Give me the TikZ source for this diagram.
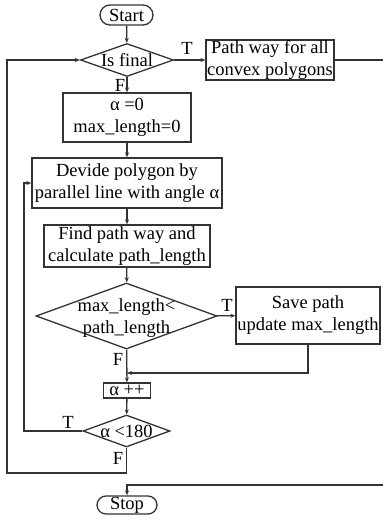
\documentclass[tikz,border=0pt]{standalone}
\usepackage{fontspec}
\setmainfont{Liberation Serif}
\usepackage{tikz}
\usetikzlibrary{shapes,arrows.meta,positioning,calc}
\tikzstyle{term}=[rounded rectangle, draw, inner sep=0pt]
\tikzstyle{proc}=[rectangle, draw, align=center, inner xsep=1pt, inner ysep=0pt]
\tikzstyle{decision}=[diamond, draw, inner sep=0pt, text height=0pt, text depth=0pt]
\tikzstyle{lbl}=[inner sep=0pt]
\newcommand{\dtext}[1]{\makebox[0pt]{\raisebox{-0.32em}{\begin{tabular}{@{}c@{}}#1\end{tabular}}}}

\begin{document}
\begin{tikzpicture}[x=1pt,y=-1pt,color=black!80,line width=1.3pt,
    every node/.append style={text=black},
    font=\fontsize{18.5}{22}\selectfont,
    >={Stealth[length=5pt,width=4pt]}]
		\useasboundingbox (0,0) rectangle (383,520);
		\node[term, minimum width=53pt, minimum height=20pt](start)at(126.5,15){Start};
		\node[decision, minimum width=93pt, minimum height=33pt](final)at(127,60){\dtext{Is final}};
		\node[proc, minimum width=126pt, minimum height=40pt](allpath)at(270,60){Path way for all\\convex polygons};
		\node[proc, minimum width=128pt, minimum height=49pt](init)at(127,117.5){α =0\\max\_length=0};
		\node[proc, minimum width=190pt, minimum height=50pt](divide)at(127,183){Devide polygon by\\parallel line with angle α};
		\node[proc, minimum width=166pt, minimum height=42pt](find)at(127,246){Find path way and\\calculate path\_length};
		\node[decision, minimum width=181pt, minimum height=66pt](cmp)at(126.5,316){\dtext{max\_length<\\path\_length}};
		\node[proc, minimum width=144pt, minimum height=57pt](save)at(308,315.5){Save path\\update max\_length};
		\node[rectangle, draw, inner sep=1pt, minimum width=47pt, minimum height=15pt](incr)at(127,390.5){α ++};
		\node[decision, minimum width=87pt, minimum height=32pt](test)at(126.5,431){\dtext{α <180}};
		\node[term, minimum width=60pt, minimum height=18pt](stop)at(127,505){Stop};
		\coordinate(join)at(127,373);
		\coordinate(inner)at(24,183);
		\coordinate(outer)at(7,473);
		\coordinate(rim)at(390,485);
		\node[lbl](t1)at(187,48){T};
		\node[lbl](f1)at(120,85){F};
		\node[lbl](t2)at(227,305){T};
		\node[lbl](f2)at(118,359){F};
		\node[lbl](t3)at(68,422){T};
		\node[lbl](f3)at(118,458){F};
		\draw[->](start)--(final);
		\draw[->](final)--(allpath);
		\draw[->](final)--(init);
		\draw[->](init)--(divide);
		\draw[->](divide)--(find);
		\draw[->](find)--(cmp);
		\draw[->](cmp)--(save);
		\draw[->](cmp)--(incr);
		\draw[->](save)|-(join);
		\draw[->](incr)--(test);
		\draw[->](test)-|(inner)--(divide);
		\draw[->](test)|-(outer)|-(final);
		\draw[->](allpath)-|(rim)-|(stop);
\end{tikzpicture}
\end{document}
